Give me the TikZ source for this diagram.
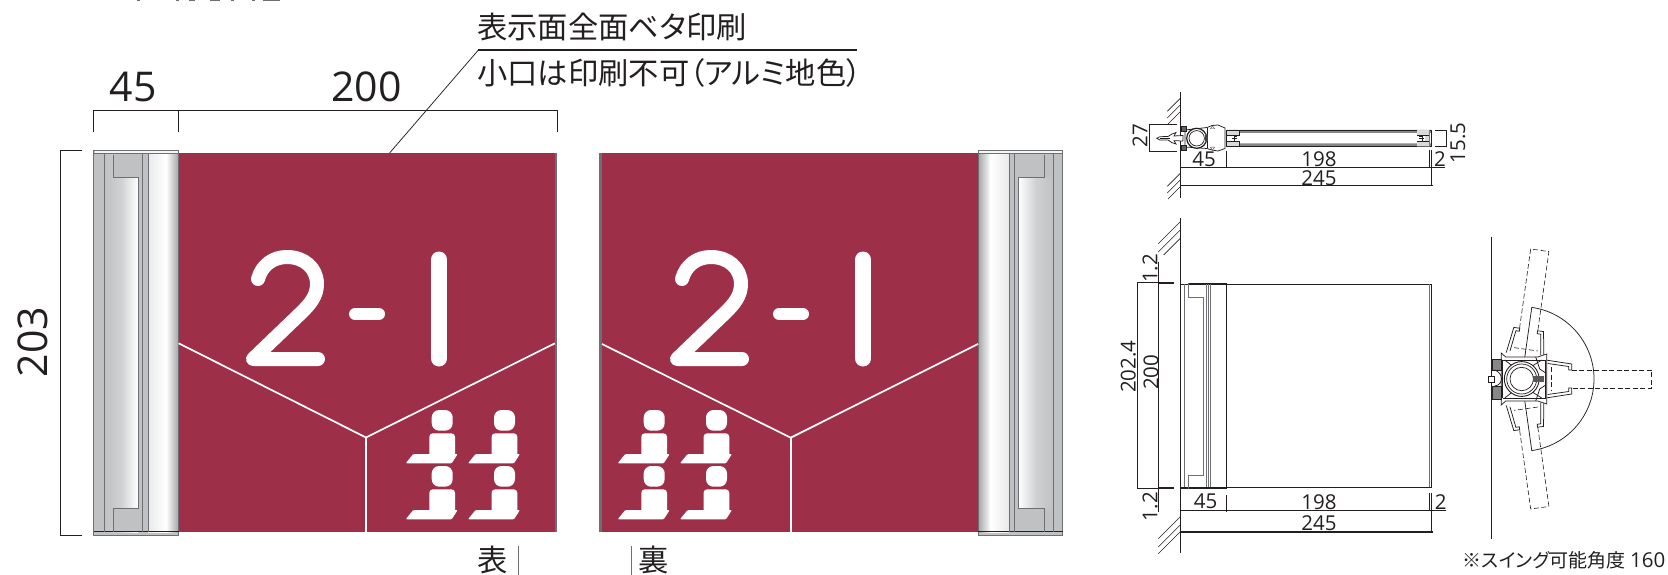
\documentclass[tikz,border=0pt]{standalone}
\usepackage{fontspec}
\setmainfont[RawFeature=+palt]{Noto Sans CJK JP}
\newfontfamily\dig{Open Sans}
\usetikzlibrary{calc}
\definecolor{maroon}{HTML}{9E2F48}
\definecolor{capgrey}{HTML}{C0C1C3}
\definecolor{ink}{HTML}{231F20}
\definecolor{edge}{HTML}{6E6F72}
\tikzset{
  x=1pt,y=-1pt,
  dim/.style={draw=ink,line width=1.1pt},
  fine/.style={draw=ink,line width=0.75pt},
  greyline/.style={draw=edge,line width=0.9pt},
  hatch/.style={draw=ink,line width=0.6pt},
  bigdim/.style={font=\dig\fontsize{41}{41}\selectfont,text=ink,inner sep=0pt},
  smalldim/.style={font=\dig\fontsize{20.5}{20.5}\selectfont,text=ink,inner sep=0pt},
  jptext/.style={font=\fontsize{30.3}{30.3}\selectfont,text=ink,inner sep=0pt},
  whiteline/.style={draw=white,line width=1.7pt},
  glyphstroke/.style={draw=white,line cap=round,line join=round},
  dashpanel/.style={draw=ink,line width=0.6pt,dash pattern=on 5pt off 2.5pt},
  solidpart/.style={draw=ink,line width=0.75pt,fill=white},
}
% 2-1 numerals, at horizontal offset #1
\newcommand{\numerals}[1]{%
  \begin{scope}[xshift=#1]
    \draw[glyphstroke,line width=14pt] (682,279) .. controls (686,265) and (697,257) .. (711,257)
      .. controls (728,257) and (741,268) .. (741,284) .. controls (741,296) and (734,304) .. (726,312)
      -- (677,359) -- (742,359);
    \draw[glyphstroke,line width=12pt] (779,314) -- (803,314);
    \draw[glyphstroke,line width=16pt] (863,259.5) -- (863,358.5);
  \end{scope}}
% seated-person pictogram, top left of its box at (#1,#2)
\newcommand{\seat}[2]{%
  \begin{scope}[shift={(#1,#2)}]
    \fill[white,rounded corners=7.5pt] (26,0) rectangle (47,20.7);
    \fill[white,rounded corners=3.5pt] (23.6,23.3) -- (49.3,23.3) -- (49.3,50) -- (23.6,50) -- cycle;
    \fill[white,rounded corners=1pt] (0,53.3) -- (7.6,44) -- (52,44) -- (46,53.3) -- cycle;
  \end{scope}}
\newcommand{\seatgroup}[2]{%
  \seat{#1}{#2}\seat{#1+62.3}{#2}\seat{#1}{#2+56}\seat{#1+62.3}{#2+56}}
% channel arm of the panel, drawn around the pivot pointing right
\newcommand{\channel}{%
  \draw[solidpart] (24,-19) -- (50,-15) -- (50,-9) -- (47,-9) -- (47,-12.5) -- (26,-15.5);
  \draw[solidpart] (24,19) -- (50,15) -- (50,9) -- (47,9) -- (47,12.5) -- (26,15.5);}
% wall head (pivot at origin)
\newcommand{\wallhead}{%
  \draw[fine,fill=white] (-20.5,-26) -- (-16,-22) -- (16,-22) -- (25,-25) -- (25,25) -- (16,22) -- (-16,22) -- (-20.5,26) -- cycle;
  \draw[fine] (-19,-19) -- (24,-19) (-19,19) -- (24,19) (-19,-19) -- (-19,19) (24,-19) -- (24,19);
  \draw[fine] (-17,-19) -- (-8,-12) (20,-19) -- (9,-12) (-17,19) -- (-8,12) (20,19) -- (9,12);
  \draw[fine] (14,-22) -- (18,-10) -- (24,-6) (14,22) -- (18,10) -- (24,6);
  \fill[white] (0,0) circle (17.4);
  \draw[ink,line width=0.9pt] (0,0) circle (17.4);
  \draw[ink,line width=0.7pt] (0,0) circle (15);
  \draw[ink,line width=0.7pt] (0,0) circle (11.7);
  \draw[fine,fill=capgrey!70!black] (-29.5,-20) rectangle (-20.5,-9);
  \draw[fine,fill=capgrey!70!black] (-29.5,20) rectangle (-20.5,7);
  \draw[fine,fill=white] (-33,-3) rectangle (-27,3);
  \draw[fine] (-27,-9) .. controls (-18,-6) and (-18,6) .. (-27,7);
  \fill[ink!75] (11,-3) rectangle (22,3);}
\begin{document}
\begin{tikzpicture}
\useasboundingbox (0,0) rectangle (1668,575);

% remnants of the cropped heading
\foreach \a/\b in {137/140,176/179,189/195,210/220,231/234,252/255,263/280}
  \fill[edge] (\a,0) rectangle (\b,1.5);

%% ---------- left sign ----------
\fill[maroon] (178.7,153) rectangle (555,532);
\fill[edge] (555,153) rectangle (557.2,532);
\fill[capgrey] (93.8,150) rectangle (178.7,535);
\shade[left color=capgrey,right color=white,middle color=capgrey!75!white] (104,153) rectangle (138,532);
\shade[left color=capgrey!35!white,right color=white] (148,153) rectangle (166,532);
\shade[left color=white,right color=capgrey!85!black] (166,153) rectangle (178.7,532);
\fill[capgrey] (142,153) rectangle (148,532);
\fill[capgrey] (113,153) rectangle (138,177);
\fill[capgrey] (113,508) rectangle (138,532);
\fill[capgrey] (138,153) rectangle (142,532);
\draw[greyline] (93.8,150) rectangle (178.7,535);
\fill[white!85!capgrey] (94.5,151) rectangle (178,153);
\draw[greyline] (94,153.5) -- (178.5,153.5);
\draw[draw=ink,line width=0.9pt] (94,531.7) -- (178.5,531.7);
\draw[greyline] (104,153) -- (104,532) (142,153) -- (142,532) (148,153) -- (148,532);
\draw[greyline] (113,155) -- (113,177) -- (138,177) -- (138,508) -- (113,508) -- (113,532);
\draw[whiteline] (178.7,343.3) -- (366,437.5) -- (555,343.3);
\draw[whiteline] (366,437.5) -- (366,532);
\numerals{-424}
\seatgroup{405.7}{410}

%% ---------- right sign ----------
\fill[maroon] (602,153) rectangle (978,532);
\fill[edge] (599,153) rectangle (602,532);
\fill[capgrey] (978,150) rectangle (1062.7,535);
\shade[left color=capgrey!85!black,right color=white] (978,153) rectangle (990.7,532);
\shade[left color=white,right color=capgrey!35!white] (990.7,153) rectangle (1009,532);
\fill[capgrey] (1009,153) rectangle (1018.3,532);
\shade[left color=white,right color=capgrey,middle color=capgrey!75!white] (1018.3,177) rectangle (1053.3,508);
\fill[capgrey] (1014.3,153) rectangle (1044,177);
\fill[capgrey] (1014.3,508) rectangle (1044,532);
\draw[greyline] (978,150) rectangle (1062.7,535);
\fill[white!85!capgrey] (978.7,151) rectangle (1062,153);
\draw[greyline] (978,153.5) -- (1062.7,153.5);
\draw[draw=ink,line width=0.9pt] (978,531.7) -- (1062.7,531.7);
\draw[greyline] (1009,153) -- (1009,532) (1014.3,153) -- (1014.3,532) (1053.3,153) -- (1053.3,532);
\draw[greyline] (1044,155) -- (1044,177) -- (1018.3,177) -- (1018.3,508) -- (1044,508) -- (1044,532);
\draw[whiteline] (602,344) -- (790.7,437.7) -- (978,344);
\draw[whiteline] (790.7,437.7) -- (790.7,532);
\numerals{0}
\seatgroup{617.7}{410}

%% ---------- dimensions, front views ----------
\draw[dim] (93.8,132) -- (93.8,110.7) -- (557.2,110.7) -- (557.2,132);
\draw[dim] (178.7,110.7) -- (178.7,132);
\node[bigdim] (d45) at (133,87) {45};
\node[bigdim] (d200) at (366.6,87) {200};
\draw[fine] (82,150) -- (60,150) -- (60,535) -- (82,535);
\node[bigdim,rotate=90] (d203) at (32.5,342) {203};

\coordinate (leadA) at (389.6,153);
\coordinate (leadB) at (478.4,50);
\coordinate (leadC) at (856.5,50);
\draw[dim] (leadB) -- (leadC);
\draw[fine] (leadA) -- (leadB);
\node[jptext,anchor=west] (t1) at (477,27) {表示面全面ベタ印刷};
\node[jptext,anchor=west] (t2) at (477,73) {小口は印刷不可（アルミ地色）};
\node[jptext] (omote) at (493,560) {表};
\node[jptext] (ura) at (654,560) {裏};
\draw[draw=edge,line width=0.7pt] (518.5,546) -- (518.5,575);
\draw[draw=edge,line width=0.7pt] (631,546) -- (631,575);

%% ---------- top section view ----------
\draw[fine] (1180.3,91.7) -- (1180.3,198);
\foreach \a/\b in {98.3/111.3,105/118,111.7/124.7,173.3/186.3,180/193,186.7/199}
  \draw[hatch] (1180.3,\a) -- ({1180.3-(\b-\a)},\b);
% 27 dimension
\draw[fine] (1177,124.3) -- (1149.3,124.3) -- (1149.3,151.7) -- (1177,151.7);
\node[smalldim,rotate=90] (d27) at (1140,136) {27};
% panel
\fill[capgrey!70!black] (1227,130) rectangle (1431,133) (1227,143.5) rectangle (1431,146.5);
\draw[fine] (1227,130) -- (1431,130) (1227,146.5) -- (1431,146.5);
\draw[greyline] (1429.5,130) -- (1429.5,147);
\draw[fine] (1431.7,130) -- (1431.7,147);
% channels at the two ends of the panel
\draw[fine,fill=capgrey!60!white] (1226.7,130) rectangle (1239,135);
\draw[fine,fill=capgrey!60!white] (1226.7,141.5) rectangle (1239,146.5);
\draw[fine] (1226.7,130) -- (1226.7,146.5);
\draw[fine] (1237,136) -- (1234,136) -- (1234,141) -- (1237,141) (1237,138.5) -- (1232,138.5);
\fill[capgrey!60!white] (1417,130) rectangle (1429,135) (1417,141.5) rectangle (1429,146.5) (1425,135) rectangle (1429,141.5);
\draw[fine] (1417,135) -- (1429,135) (1417,141.5) -- (1429,141.5);
\draw[fine] (1419,136) -- (1422,136) -- (1422,141) -- (1419,141) (1419,138.5) -- (1424,138.5);
% head
\draw[fine,fill=white] (1185,130) -- (1207,127.5) -- (1212,125.5) -- (1218,125) -- (1225,128) -- (1225,148.5) -- (1218,151) -- (1212,150) -- (1207,148.5) -- (1185,147) -- cycle;
\draw[fine] (1207,128) -- (1207,148);
\fill[ink!80] (1210,129) -- (1212.5,125.5) -- (1215,129) -- cycle (1210,147) -- (1212.5,150.5) -- (1215,147) -- cycle;
\fill[white] (1211,128.7) -- (1212.5,126.5) -- (1214,128.7) -- cycle (1211,147.3) -- (1212.5,149.5) -- (1214,147.3) -- cycle;
\draw[ink,line width=1.2pt,fill=white] (1196.7,138.3) circle (10);
\draw[ink,line width=0.7pt] (1196.7,138.3) circle (7.7);
\fill[ink!85] (1205,135) -- (1208,135) -- (1208,141) -- (1205,141) -- cycle;
\draw[fine,fill=ink!70] (1181,126) rectangle (1186,131.5);
\draw[fine,fill=ink!70] (1181,145) rectangle (1186,150);
\draw[fine,fill=white] (1156.7,138.3) -- (1160,136.7) -- (1168,136.5) -- (1172,134) -- (1176,132.5) -- (1174,136) -- (1183,135.5) -- (1183,141) -- (1174,140.7) -- (1176,144) -- (1172,142.7) -- (1168,140) -- (1160,140) -- cycle;
\draw[fine] (1160,138.3) -- (1170,138.3);
% 15.5
\draw[fine] (1435,130.7) -- (1446,130.7) -- (1446,146) -- (1435,146);
\node[smalldim,rotate=90] (d155) at (1458,143) {15.5};
% base dims
\draw[dim] (1180.3,167.7) -- (1431.7,167.7);
\draw[fine] (1226.7,151) -- (1226.7,167.7);
\draw[fine] (1429.5,150) -- (1429.5,168);
\draw[fine] (1431.7,150) -- (1431.7,186);
\draw[fine] (1431.7,167.7) -- (1445,167.7);
\draw[dim] (1180.3,185.3) -- (1432.5,185.3);
\node[smalldim] (tb45) at (1204,159) {45};
\node[smalldim] (tb198) at (1319,159) {198};
\node[smalldim] (tb2) at (1440,159) {2};
\node[smalldim] (tb245) at (1319,177.7) {245};

%% ---------- side elevation ----------
\draw[fine] (1180.3,218) -- (1180.3,553);
\foreach \a/\b in {221.7/243.7,230/252,238.3/255}
  \draw[hatch] (1180.3,\a) -- ({1180.3-(\b-\a)},\b);
\foreach \a/\b in {516.7/538.7,525/547,531.7/553.7}
  \draw[hatch] (1180.3,\a) -- ({1180.3-(\b-\a)},\b);
\draw[fine] (1180.3,284) -- (1431.7,284) (1180.3,487.3) -- (1431.7,487.3);
\draw[fine] (1188.3,283) -- (1226.7,283) -- (1226.7,488.7) -- (1188.3,488.7);
\draw[greyline] (1184.3,284) -- (1184.3,487.3);
\draw[greyline] (1188.3,283) -- (1188.3,297.3) -- (1203.3,297.3) -- (1203.3,475) -- (1188.3,475) -- (1188.3,488.7);
\draw[greyline] (1206,284) -- (1206,487.3) (1208.3,284) -- (1208.3,487.3) (1210.7,284) -- (1210.7,487.3);
\draw[greyline] (1429.5,284) -- (1429.5,487.3);
\draw[fine] (1431.7,284) -- (1431.7,487.3);
% heights
\draw[fine] (1158.3,282.7) -- (1137.3,282.7) -- (1137.3,488.3) -- (1158.3,488.3);
\draw[fine] (1158.3,261.7) -- (1158.3,511.7);
\draw[draw=ink,line width=2pt] (1158.3,283.3) -- (1174,283.3) (1158.3,487.7) -- (1174,487.7);
\draw[draw=ink,line width=2pt] (1180.3,487.7) -- (1188,487.7);
\node[smalldim,rotate=90] (s12a) at (1150,268.3) {1.2};
\node[smalldim,rotate=90] (s12b) at (1150,506.7) {1.2};
\node[smalldim,rotate=90] (s2024) at (1128.3,366.7) {202.4};
\node[smalldim,rotate=90] (s200) at (1151,372.3) {200};
% base dims
\draw[dim] (1180.3,510.3) -- (1431.7,510.3);
\draw[fine] (1226,495) -- (1226,512);
\draw[fine] (1429.5,493.3) -- (1429.5,511);
\draw[fine] (1431.7,493.3) -- (1431.7,533);
\draw[fine] (1431.7,510.3) -- (1446,510.3);
\draw[dim] (1180.3,532) -- (1432.5,532);
\node[smalldim] (sb45) at (1205.7,501.7) {45};
\node[smalldim] (sb198) at (1319,501.7) {198};
\node[smalldim] (sb2) at (1440.7,501.7) {2};
\node[smalldim] (sb245) at (1319,523.3) {245};

%% ---------- swing view ----------
\draw[fine] (1491.7,236.7) -- (1491.7,539);
\begin{scope}[shift={(1521.7,379)}]
  \foreach \r in {82,-82,0}{
    \begin{scope}[rotate=\r]
      \draw[dashpanel] (30,-12) -- (30,12) (50,-9.2) -- (130,-9.2) -- (130,9.2) -- (50,9.2);
    \end{scope}}
  \draw[fine] ({72.3*cos(82)},{-72.3*sin(82)}) arc[start angle=82,end angle=-82,radius=72.3,y radius=-72.3] -- (0,0) -- cycle;
  \foreach \r in {82,-82,0}{
    \begin{scope}[rotate=\r]\channel\end{scope}}
  \wallhead
\end{scope}
\node[font=\fontsize{19}{19}\selectfont,text=ink,inner sep=0pt,anchor=west] (note) at (1462.7,560) {※スイング可能角度 {\dig\fontsize{20.5}{20.5}\selectfont 160}};
\end{tikzpicture}
\end{document}
